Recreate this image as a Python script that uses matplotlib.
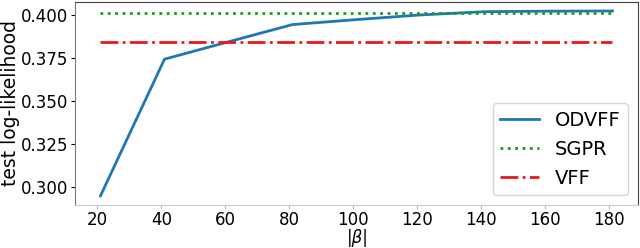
import numpy as np
import matplotlib
matplotlib.use("Agg")
from matplotlib import pyplot as plt

# number of features |beta|
beta = [21, 41, 61, 81, 101, 121, 141, 161, 181]

# test log-likelihood per method
odvff = [0.2951, 0.3745, 0.3846, 0.3946, 0.3975, 0.4002, 0.4021, 0.4024, 0.4025]
sgpr = 0.4013
vff = 0.3845

fig = plt.figure(figsize=(6.4, 2.48), dpi=100)
ax = fig.add_axes([0.117, 0.173, 0.88, 0.82])

ax.plot(beta, odvff, color="#1f77b4", lw=2, label="ODVFF")
ax.plot(beta, [sgpr] * len(beta), color="#1a9a1a", ls=":", lw=2, label="SGPR")
ax.plot(beta, [vff] * len(beta), color="#e8191c", ls="-.", lw=2, label="VFF")

ax.set_xticks(np.arange(20, 181, 20))
ax.set_yticks([0.300, 0.325, 0.350, 0.375, 0.400])
ax.tick_params(labelsize=12, length=3)
ax.tick_params(axis="x", pad=1.5)
ax.tick_params(axis="y", pad=2)
# plain text label, mathtext box is too tall for the space under the ticks
ax.set_xlabel("|β|", fontsize=12, style="italic", va="bottom")
ax.xaxis.set_label_coords(0.503, -0.205)
ax.set_ylabel("test log-likelihood", fontsize=13.5)
ax.yaxis.set_label_coords(-0.097, 0.5)

ax.spines["bottom"].set_color("#cccccc")
ax.spines["left"].set_color("#777777")
ax.spines["top"].set_color("#444444")
ax.spines["right"].set_color("#444444")
ax.tick_params(axis="x", color="#bbbbbb")

ax.legend(loc="lower right", fontsize=14)

fig.savefig("out.png", dpi=100)
